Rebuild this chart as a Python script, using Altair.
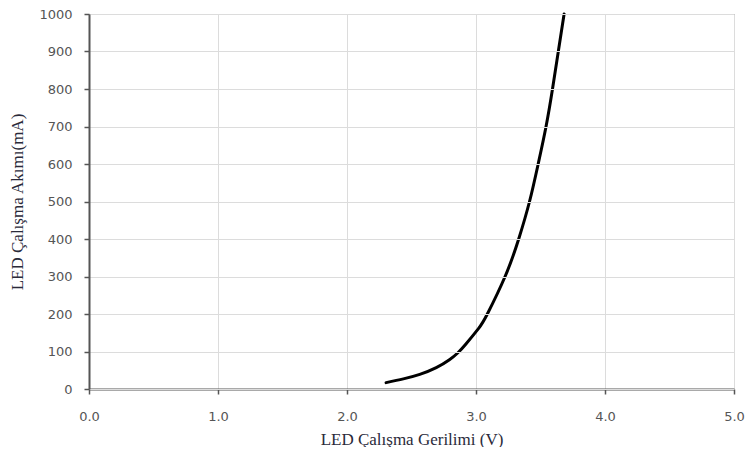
import altair as alt
import pandas as pd

voltage = [2.303, 2.437, 2.564, 2.692, 2.794, 2.858, 2.922, 3.019, 3.088, 3.228, 3.331,
           3.415, 3.482, 3.543, 3.593, 3.638, 3.683]
current = [17, 27, 39, 57, 78, 96, 120, 161, 200, 302, 400, 500, 600, 700, 800, 900, 1000]

x_ticks = [0, 1, 2, 3, 4, 5]
y_ticks = [0, 100, 200, 300, 400, 500, 600, 700, 800, 900, 1000]

df = pd.DataFrame({"V": voltage, "I": current})

chart = alt.Chart(df).mark_line(
    color="black", strokeWidth=3, interpolate="natural", strokeCap="round"
).encode(
    x=alt.X("V:Q", scale=alt.Scale(domain=[0, 5], nice=False),
            axis=alt.Axis(values=x_ticks, format=".1f", title="LED Çalışma Gerilimi (V)",
                          labelFlush=False, labelPadding=16, titlePadding=8)),
    y=alt.Y("I:Q", scale=alt.Scale(domain=[0, 1000], nice=False),
            axis=alt.Axis(values=y_ticks, format="d", title="LED Çalışma Akımı(mA)",
                          labelFlush=False, labelPadding=12, titlePadding=12, zindex=1)),
).properties(
    width=645, height=375,
    autosize=alt.AutoSizeParams(type="none"),
    padding={"left": 81, "top": 6, "right": 11, "bottom": 58},
).configure_view(
    stroke="#777", strokeWidth=1
).configure_axis(
    domainColor="#555", domainWidth=2,
    tickColor="#555", tickSize=5, tickWidth=1.5,
    gridColor="#dcdcdc", gridWidth=1,
    labelFont="DejaVu Sans", labelFontSize=13, labelColor="#555",
    titleFont="Liberation Serif", titleFontSize=17, titleColor="#2a2a3a",
    titleFontWeight="normal",
)

chart.save("out.html", embed_options={"renderer": "svg", "actions": False})
